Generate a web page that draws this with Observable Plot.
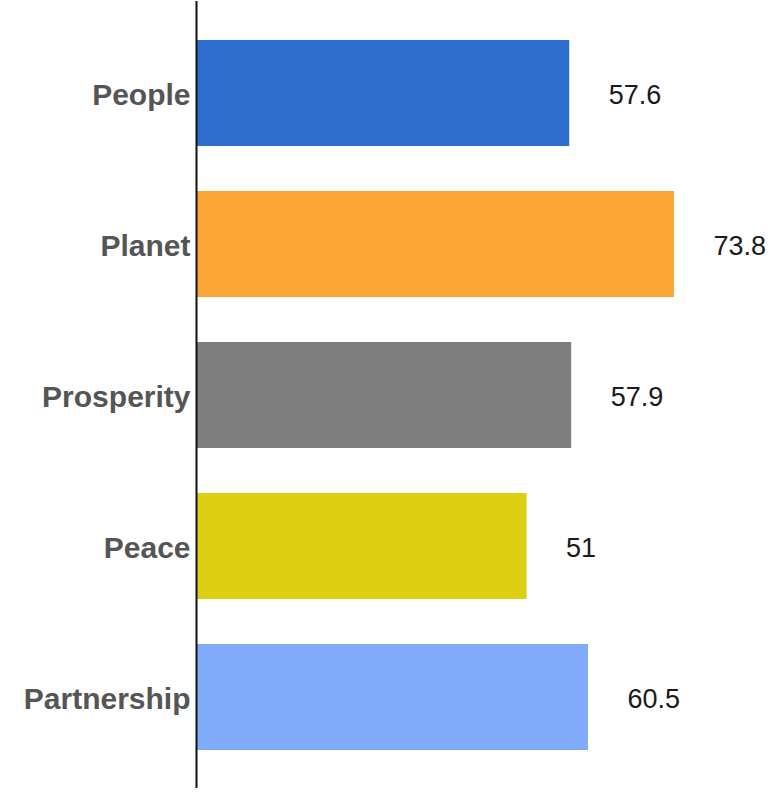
<!DOCTYPE html>
<html>
<head>
<meta charset="utf-8">
<script src="https://cdn.jsdelivr.net/npm/d3@7"></script>
<script src="https://cdn.jsdelivr.net/npm/@observablehq/plot@0.6"></script>
<style>
  html, body { margin: 0; padding: 0; background: #fff; }
  #chart svg { display: block; }
</style>
</head>
<body>
<div id="chart"></div>
<script>
const categories = ["People", "Planet", "Prosperity", "Peace", "Partnership"];
const values = [57.6, 73.8, 57.9, 51, 60.5];
const labels = ["57.6", "73.8", "57.9", "51", "60.5"];
const colors = ["#2E6ECF", "#FBA535", "#7F7F7F", "#DDCF12", "#7FABFA"];

const data = categories.map((c, i) => ({category: c, value: values[i], label: labels[i]}));

const chart = Plot.plot({
  width: 773,
  height: 792,
  marginLeft: 197,
  marginRight: 59,
  marginTop: 1,
  marginBottom: 4,
  style: {fontFamily: "'Liberation Sans', Arial, Helvetica, sans-serif", background: "#fff"},
  x: {domain: [0, 80], axis: null},
  y: {domain: categories, paddingInner: 0.3, paddingOuter: 0.245, label: null},
  color: {domain: categories, range: colors},
  marks: [
    Plot.barX(data, {x: "value", y: "category", fill: "category"}),
    Plot.text(data, {x: "value", y: "category", text: "label", textAnchor: "start", dx: 39, dy: 2, fontSize: 27, fill: "#1a1a1a"}),
    Plot.axisY({tickSize: 0, tickPadding: 7, dy: 2, fontSize: 30, fontWeight: "bold", fill: "#555", label: null}),
    Plot.ruleX([0], {stroke: "#111", strokeWidth: 2, dx: -1})
  ]
});
document.getElementById("chart").appendChild(chart);
</script>
</body>
</html>
